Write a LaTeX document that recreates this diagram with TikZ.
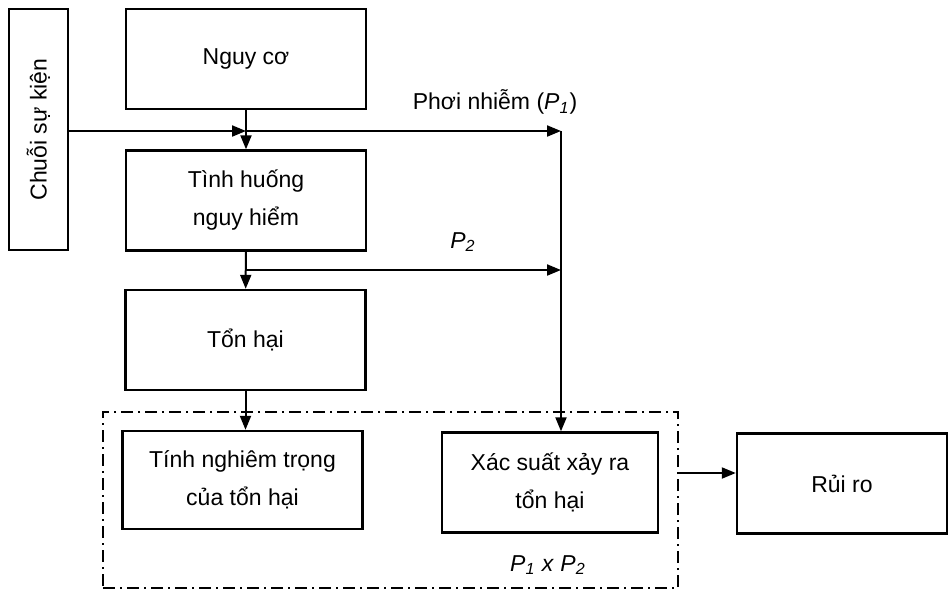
\documentclass[tikz,border=0pt]{standalone}
\usepackage{fontspec}
\setmainfont{Liberation Sans}
\usepackage{graphicx}
\usetikzlibrary{arrows.meta, positioning, calc}
\tikzset{
  base/.style={draw=black, line width=1.2pt, align=center, inner sep=0pt,
               font=\fontsize{11.5}{19}\selectfont},
  block/.style    = {base, minimum width=120pt, minimum height=50pt},
  sidebox/.style  = {base, minimum width=29.5pt, minimum height=120.5pt},
  groupbox/.style = {draw=black, line width=0.8pt,
                     dash pattern=on 6pt off 2.5pt on 1pt off 2.5pt,
                     minimum width=287.5pt, minimum height=88pt},
  lbl/.style      = {inner sep=1pt, font=\fontsize{11.5}{14}\selectfont},
}

\begin{document}
\begin{tikzpicture}[
  x=0.5pt, y=-0.5pt,
  arr/.style={-{Triangle[length=7pt, width=5.5pt]}, line width=1pt},
]
  \useasboundingbox (0,0) rectangle (949,591);

  \node[sidebox] (chuoi) at (38.5,129.5) {\rotatebox{90}{Chuỗi sự kiện}};
  \node[block] (nguyco) at (246,59) {Nguy cơ};
  \node[block] (tinhhuong) at (246,200.5) {Tình huống\\nguy hiểm};
  \node[block] (tonhai) at (245.5,340) {Tổn hại};
  \node[groupbox] (nhom) at (390.5,500) {};
  \node[block, minimum height=49pt] (nghiemtrong) at (242.5,480) {Tính nghiêm trọng\\của tổn hại};
  \node[block, minimum width=108pt] (xacsuat) at (550,482.5) {Xác suất xảy ra\\tổn hại};
  \node[block, minimum width=105pt] (ruiro) at (842,483.5) {Rủi ro};

  % labels
  \node[lbl] (p1) at (495,102) {Phơi nhiễm (\textit{P}\textsubscript{\textit{1}})};
  \node[lbl] (p2) at (463,242) {\textit{P}\textsubscript{\textit{2}}};
  \node[lbl] (p12) at (548,565) {\textit{P}\textsubscript{\textit{1}} \textit{x} \textit{P}\textsubscript{\textit{2}}};

  \coordinate (j1) at (246,131);
  \coordinate (k1) at (561,131);
  \coordinate (j2) at (246,270);
  \coordinate (k2) at (561,270);
  \coordinate (g) at (0,473);

  \draw[arr] (chuoi.east |- j1) -- (j1);
  \draw[arr] (j1) -- (k1);
  \draw[arr] (k1) -- (k1 |- xacsuat.north);
  \draw[arr] (nguyco) -- (tinhhuong);
  \draw[arr] (tinhhuong) -- (tonhai);
  \draw[arr] (j2) -- (k2);
  \draw[arr] (tonhai.south) -- (tonhai.south |- nghiemtrong.north);
  \draw[arr] (nhom.east |- g) -- (ruiro.west |- g);
\end{tikzpicture}
\end{document}
